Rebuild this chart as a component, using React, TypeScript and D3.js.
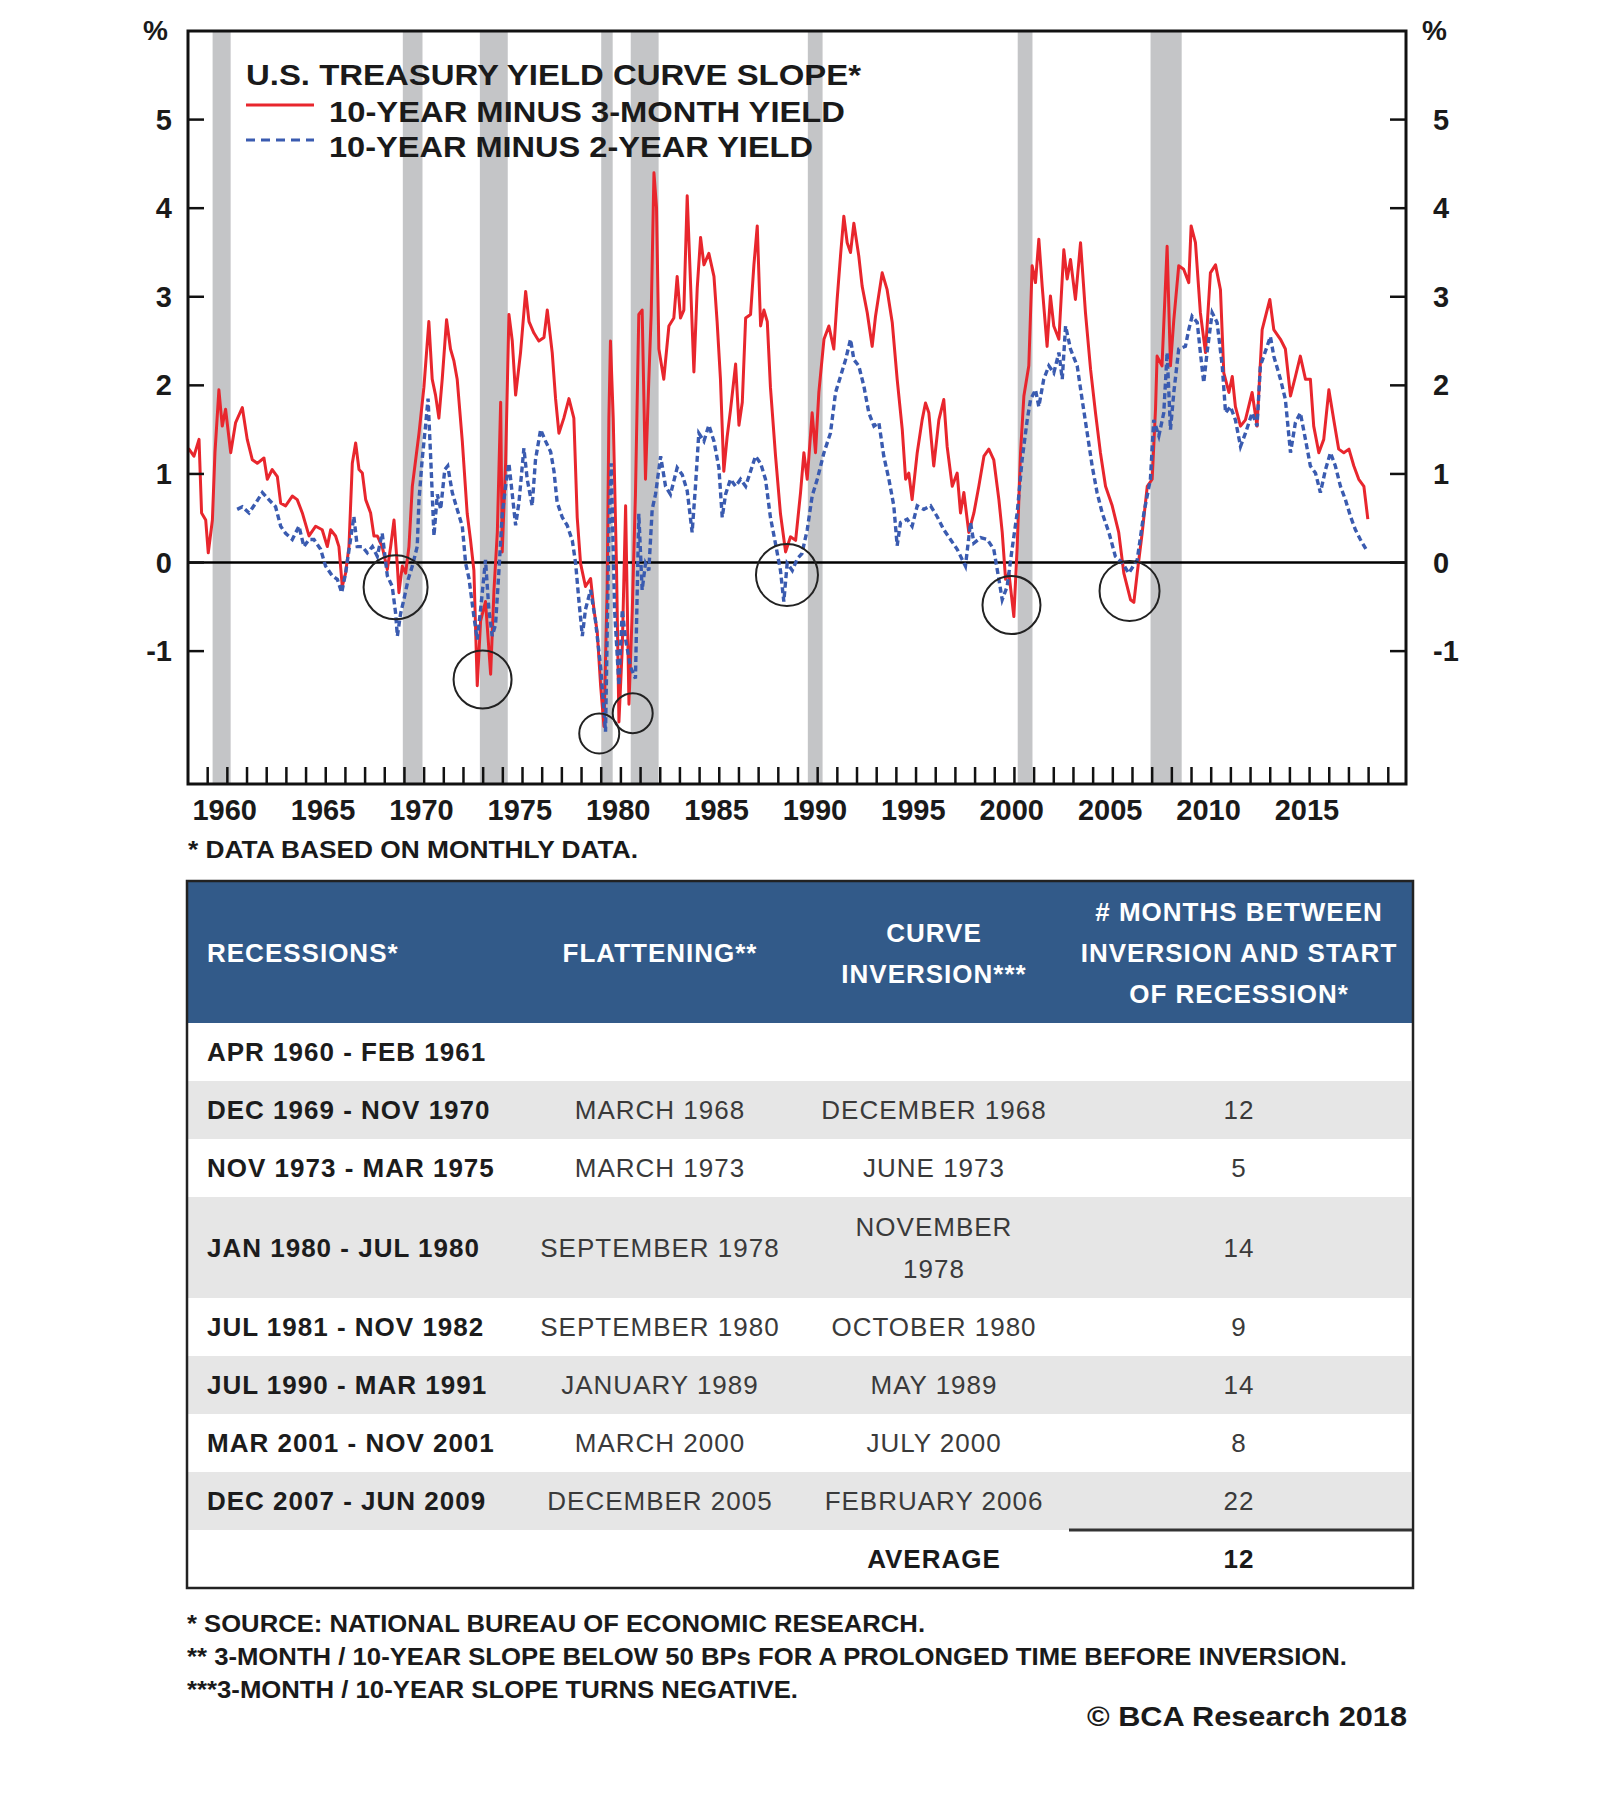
import React, { useEffect, useRef } from 'react';
import * as d3 from 'd3';

const WIDTH = 1600;
const HEIGHT = 1816;

// NBER recessions, decimal years (start of first month, end of last month)
const recessions: [number, number][] = [
  [1960.25, 1961.167],
  [1969.917, 1970.917],
  [1973.833, 1975.25],
  [1980.0, 1980.583],
  [1981.5, 1982.917],
  [1990.5, 1991.25],
  [2001.167, 2001.917],
  [2007.917, 2009.5],
];

// 10-year minus 3-month yield, %
const slope3m: [number, number][] = [
  [1959.0, 1.25], [1959.05, 1.28], [1959.3, 1.2], [1959.56, 1.39], [1959.69, 0.56], [1959.9, 0.48],
  [1960.03, 0.11], [1960.24, 0.48], [1960.37, 1.24], [1960.57, 1.95], [1960.74, 1.54], [1960.91, 1.73],
  [1961.17, 1.24], [1961.42, 1.58], [1961.76, 1.75], [1962.01, 1.39], [1962.27, 1.16], [1962.52, 1.12],
  [1962.86, 1.18], [1963.03, 0.94], [1963.28, 1.05], [1963.54, 0.97], [1963.71, 0.67], [1963.96, 0.64],
  [1964.3, 0.75], [1964.55, 0.71], [1964.81, 0.56], [1965.15, 0.3], [1965.49, 0.41], [1965.82, 0.37],
  [1966.08, 0.18], [1966.25, 0.37], [1966.5, 0.3], [1966.67, 0.18], [1966.84, -0.27], [1967.01, -0.12],
  [1967.18, 0.18], [1967.35, 1.12], [1967.52, 1.35], [1967.69, 1.05], [1967.86, 1.01], [1968.03, 0.71],
  [1968.28, 0.56], [1968.45, 0.3], [1968.62, 0.3], [1968.87, 0.18], [1969.13, -0.08], [1969.3, 0.18],
  [1969.47, 0.48], [1969.64, -0.04], [1969.72, -0.34], [1969.89, -0.04], [1970.06, -0.12], [1970.23, 0.18],
  [1970.4, 0.86], [1970.57, 1.16], [1970.74, 1.46], [1970.99, 1.98], [1971.24, 2.72], [1971.41, 2.07],
  [1971.58, 1.89], [1971.75, 1.63], [1971.92, 2.07], [1972.14, 2.74], [1972.34, 2.41], [1972.51, 2.28],
  [1972.68, 2.07], [1972.94, 1.37], [1973.19, 0.55], [1973.36, 0.25], [1973.53, -0.09], [1973.7, -1.39],
  [1973.87, -0.66], [1974.12, -0.44], [1974.38, -1.26], [1974.55, -0.31], [1974.72, 0.34], [1974.89, 1.81],
  [1974.97, 0.12], [1975.14, 1.12], [1975.31, 2.8], [1975.48, 2.5], [1975.65, 1.89], [1975.9, 2.37],
  [1976.16, 3.06], [1976.33, 2.72], [1976.58, 2.59], [1976.83, 2.5], [1977.09, 2.54], [1977.26, 2.85],
  [1977.51, 2.37], [1977.68, 1.85], [1977.85, 1.46], [1978.1, 1.63], [1978.36, 1.85], [1978.61, 1.63],
  [1978.78, 0.51], [1978.95, -0.01], [1979.2, -0.27], [1979.46, -0.18], [1979.63, -0.53], [1979.8, -0.79],
  [1979.97, -1.39], [1980.14, -1.85], [1980.3, -0.31], [1980.39, 1.63], [1980.47, 2.5], [1980.61, 1.63],
  [1980.78, -0.09], [1980.9, -1.8], [1981.07, -0.96], [1981.24, 0.64], [1981.41, -1.6], [1981.58, -0.53],
  [1981.74, 0.77], [1981.91, 2.8], [1982.08, 2.85], [1982.25, 0.94], [1982.42, 2.07], [1982.54, 2.8],
  [1982.68, 4.4], [1982.81, 4.01], [1982.93, 2.41], [1983.18, 2.07], [1983.44, 2.67], [1983.69, 2.76],
  [1983.86, 3.23], [1984.03, 2.76], [1984.2, 2.85], [1984.37, 4.14], [1984.54, 3.15], [1984.71, 2.15],
  [1984.88, 3.1], [1985.05, 3.67], [1985.22, 3.36], [1985.47, 3.49], [1985.73, 3.23], [1985.89, 2.72],
  [1986.06, 2.07], [1986.23, 1.03], [1986.4, 1.42], [1986.57, 1.72], [1986.83, 2.24], [1987.0, 1.55],
  [1987.17, 1.81], [1987.34, 2.76], [1987.59, 2.8], [1987.76, 3.36], [1987.93, 3.8], [1988.1, 2.67],
  [1988.27, 2.85], [1988.44, 2.72], [1988.6, 1.98], [1988.86, 1.2], [1989.11, 0.55], [1989.37, 0.12],
  [1989.62, 0.29], [1989.88, 0.25], [1990.13, 0.79], [1990.3, 1.24], [1990.47, 0.94], [1990.72, 1.69],
  [1990.89, 1.24], [1991.06, 1.92], [1991.32, 2.52], [1991.57, 2.67], [1991.82, 2.41], [1991.99, 2.97],
  [1992.16, 3.46], [1992.33, 3.91], [1992.5, 3.61], [1992.67, 3.5], [1992.84, 3.83], [1993.09, 3.46],
  [1993.26, 3.12], [1993.52, 2.82], [1993.77, 2.44], [1993.94, 2.78], [1994.28, 3.27], [1994.53, 3.08],
  [1994.79, 2.71], [1995.04, 2.07], [1995.3, 1.5], [1995.47, 0.94], [1995.63, 1.01], [1995.8, 0.71],
  [1996.06, 1.24], [1996.31, 1.61], [1996.48, 1.8], [1996.65, 1.69], [1996.9, 1.09], [1997.16, 1.61],
  [1997.41, 1.84], [1997.58, 1.31], [1997.84, 0.86], [1998.09, 1.01], [1998.26, 0.56], [1998.43, 0.79],
  [1998.68, 0.34], [1998.94, 0.56], [1999.19, 0.86], [1999.45, 1.2], [1999.7, 1.28], [1999.95, 1.16],
  [2000.21, 0.71], [2000.38, 0.34], [2000.55, -0.19], [2000.72, -0.12], [2000.97, -0.61], [2001.14, 0.18],
  [2001.31, 1.24], [2001.48, 1.88], [2001.73, 2.22], [2001.9, 3.35], [2002.07, 3.16], [2002.24, 3.65],
  [2002.41, 3.12], [2002.66, 2.44], [2002.83, 3.01], [2003.0, 2.67], [2003.26, 2.52], [2003.51, 3.53],
  [2003.68, 3.2], [2003.85, 3.42], [2004.1, 2.97], [2004.36, 3.61], [2004.61, 2.82], [2004.87, 2.18],
  [2005.12, 1.69], [2005.37, 1.24], [2005.63, 0.86], [2005.97, 0.64], [2006.3, 0.34], [2006.56, -0.12],
  [2006.9, -0.42], [2007.07, -0.45], [2007.24, -0.12], [2007.49, 0.33], [2007.75, 0.86], [2008.0, 0.94],
  [2008.17, 1.73], [2008.25, 2.33], [2008.5, 2.22], [2008.76, 3.57], [2008.93, 2.22], [2009.1, 2.74],
  [2009.35, 3.35], [2009.6, 3.31], [2009.86, 3.16], [2009.98, 3.8], [2010.2, 3.61], [2010.45, 2.82],
  [2010.71, 2.37], [2010.96, 3.27], [2011.22, 3.36], [2011.47, 3.08], [2011.64, 2.14], [2011.9, 1.92],
  [2012.07, 2.1], [2012.23, 1.76], [2012.49, 1.54], [2012.74, 1.61], [2013.08, 1.92], [2013.33, 1.54],
  [2013.59, 2.63], [2013.98, 2.97], [2014.18, 2.63], [2014.52, 2.52], [2014.77, 2.41], [2015.03, 1.88],
  [2015.28, 2.1], [2015.53, 2.33], [2015.79, 2.07], [2016.04, 2.07], [2016.21, 1.54], [2016.47, 1.24],
  [2016.72, 1.39], [2016.98, 1.95], [2017.23, 1.61], [2017.48, 1.28], [2017.74, 1.24], [2018.0, 1.28],
  [2018.25, 1.09], [2018.5, 0.94], [2018.76, 0.86], [2018.96, 0.49],
];

// 10-year minus 2-year yield, %
const slope2y: [number, number][] = [
  [1961.5, 0.6], [1961.76, 0.63], [1962.1, 0.56], [1962.44, 0.67], [1962.78, 0.79], [1963.11, 0.71],
  [1963.45, 0.63], [1963.71, 0.41], [1963.96, 0.33], [1964.3, 0.26], [1964.64, 0.41], [1964.89, 0.18],
  [1965.15, 0.26], [1965.4, 0.26], [1965.74, 0.15], [1965.99, -0.04], [1966.33, -0.15], [1966.59, -0.19],
  [1966.81, -0.34], [1967.01, -0.12], [1967.26, 0.26], [1967.43, 0.52], [1967.6, 0.18], [1967.86, 0.18],
  [1968.11, 0.11], [1968.37, 0.18], [1968.62, 0.07], [1968.87, 0.33], [1969.13, -0.15], [1969.38, -0.27],
  [1969.55, -0.57], [1969.64, -0.83], [1969.81, -0.57], [1969.97, -0.42], [1970.19, -0.19], [1970.4, -0.04],
  [1970.65, 0.18], [1970.74, 0.71], [1970.9, 1.16], [1971.07, 1.54], [1971.2, 1.85], [1971.35, 1.1],
  [1971.5, 0.3], [1971.67, 0.77], [1971.84, 0.6], [1972.05, 1.05], [1972.2, 1.09], [1972.43, 0.79],
  [1972.68, 0.6], [1972.94, 0.41], [1973.11, -0.01], [1973.28, -0.18], [1973.53, -0.61], [1973.7, -0.87],
  [1973.87, -0.53], [1974.12, 0.03], [1974.29, -0.53], [1974.46, -0.83], [1974.63, -0.7], [1974.8, -0.1],
  [1974.97, 0.55], [1975.14, 0.86], [1975.31, 1.12], [1975.48, 0.77], [1975.65, 0.42], [1975.82, 0.68],
  [1976.07, 1.29], [1976.24, 0.94], [1976.49, 0.64], [1976.66, 1.16], [1976.92, 1.5], [1977.17, 1.37],
  [1977.43, 1.25], [1977.6, 1.03], [1977.76, 0.68], [1978.02, 0.51], [1978.27, 0.42], [1978.53, 0.25],
  [1978.7, -0.01], [1978.87, -0.44], [1979.04, -0.83], [1979.2, -0.53], [1979.46, -0.31], [1979.71, -0.66],
  [1979.97, -1.18], [1980.22, -1.91], [1980.39, 0.34], [1980.51, 1.12], [1980.68, -0.53], [1980.9, -1.39],
  [1981.07, -0.53], [1981.24, -0.87], [1981.49, -1.18], [1981.74, -1.31], [1981.91, 0.55], [1982.08, -0.31],
  [1982.25, -0.01], [1982.42, -0.09], [1982.59, 0.6], [1982.76, 0.77], [1983.02, 1.2], [1983.27, 0.86],
  [1983.52, 0.77], [1983.86, 1.07], [1984.12, 0.99], [1984.37, 0.81], [1984.62, 0.34], [1984.79, 0.86],
  [1984.96, 1.46], [1985.22, 1.37], [1985.47, 1.55], [1985.73, 1.37], [1985.98, 1.07], [1986.15, 0.51],
  [1986.32, 0.77], [1986.57, 0.94], [1986.83, 0.86], [1987.08, 0.94], [1987.34, 0.86], [1987.59, 1.03],
  [1987.84, 1.2], [1988.1, 1.12], [1988.35, 0.94], [1988.6, 0.51], [1988.86, 0.21], [1989.11, -0.09],
  [1989.28, -0.44], [1989.45, -0.01], [1989.71, -0.09], [1989.96, 0.04], [1990.2, 0.1], [1990.47, 0.37],
  [1990.72, 0.75], [1990.98, 0.94], [1991.32, 1.24], [1991.65, 1.46], [1991.91, 1.92], [1992.16, 2.1],
  [1992.42, 2.29], [1992.67, 2.52], [1992.84, 2.29], [1993.09, 2.22], [1993.35, 1.99], [1993.6, 1.69],
  [1993.86, 1.54], [1994.11, 1.58], [1994.36, 1.2], [1994.62, 0.94], [1994.87, 0.64], [1995.04, 0.19],
  [1995.21, 0.45], [1995.55, 0.49], [1995.8, 0.41], [1996.06, 0.64], [1996.4, 0.6], [1996.74, 0.64],
  [1997.07, 0.52], [1997.41, 0.37], [1997.75, 0.26], [1998.09, 0.15], [1998.51, -0.04], [1998.77, 0.45],
  [1998.94, 0.22], [1999.28, 0.28], [1999.62, 0.26], [1999.95, 0.15], [2000.21, -0.19], [2000.38, -0.42],
  [2000.63, -0.27], [2000.88, 0.15], [2001.14, 0.56], [2001.39, 1.16], [2001.65, 1.61], [2001.82, 1.84],
  [2002.07, 1.95], [2002.24, 1.76], [2002.49, 2.07], [2002.75, 2.22], [2003.0, 2.14], [2003.26, 2.37],
  [2003.43, 2.07], [2003.6, 2.67], [2003.85, 2.41], [2004.19, 2.22], [2004.44, 1.84], [2004.7, 1.46],
  [2004.95, 1.09], [2005.2, 0.79], [2005.46, 0.56], [2005.8, 0.34], [2006.13, 0.07], [2006.47, 0.0],
  [2006.81, -0.12], [2007.24, 0.03], [2007.58, 0.56], [2007.91, 0.94], [2008.08, 1.61], [2008.34, 1.43],
  [2008.59, 1.69], [2008.76, 2.37], [2008.93, 1.5], [2009.1, 1.92], [2009.35, 2.41], [2009.69, 2.44],
  [2009.86, 2.63], [2010.03, 2.78], [2010.29, 2.71], [2010.45, 2.37], [2010.62, 2.03], [2010.79, 2.37],
  [2011.05, 2.82], [2011.3, 2.71], [2011.56, 2.22], [2011.73, 1.69], [2011.98, 1.76], [2012.23, 1.61],
  [2012.49, 1.31], [2012.74, 1.46], [2013.08, 1.69], [2013.33, 1.54], [2013.5, 2.22], [2013.84, 2.44],
  [2014.01, 2.55], [2014.18, 2.33], [2014.52, 2.07], [2014.77, 1.84], [2015.03, 1.24], [2015.28, 1.58],
  [2015.53, 1.69], [2015.79, 1.39], [2016.04, 1.09], [2016.3, 1.01], [2016.55, 0.79], [2016.81, 1.05],
  [2017.06, 1.24], [2017.31, 1.09], [2017.57, 0.86], [2017.82, 0.71], [2018.08, 0.52], [2018.33, 0.37],
  [2018.58, 0.26], [2018.92, 0.13],
];

// inversion episodes that are circled on the chart: [year, %]
const inversionMarks: [number, number][] = [
  [1969.55, -0.28],
  [1973.97, -1.32],
  [1979.9, -1.93],
  [1981.6, -1.7],
  [1989.44, -0.14],
  [2000.85, -0.48],
  [2006.85, -0.32],
];

const yTicks = [-1, 0, 1, 2, 3, 4, 5];
const xLabelYears = [1960, 1965, 1970, 1975, 1980, 1985, 1990, 1995, 2000, 2005, 2010, 2015];
const xTickYears = d3.range(1960, 2021);

const legendTitle = 'U.S. TREASURY YIELD CURVE SLOPE*';
const seriesNames = ['10-YEAR MINUS 3-MONTH YIELD', '10-YEAR MINUS 2-YEAR YIELD'];

// table
const headers = [
  ['RECESSIONS*'],
  ['FLATTENING**'],
  ['CURVE', 'INVERSION***'],
  ['# MONTHS BETWEEN', 'INVERSION AND START', 'OF RECESSION*'],
];
const recessionLabels = [
  'APR 1960 - FEB 1961',
  'DEC 1969 - NOV 1970',
  'NOV 1973 - MAR 1975',
  'JAN 1980 - JUL 1980',
  'JUL 1981 - NOV 1982',
  'JUL 1990 - MAR 1991',
  'MAR 2001 - NOV 2001',
  'DEC 2007 - JUN 2009',
];
const flatteningDates = ['', 'MARCH 1968', 'MARCH 1973', 'SEPTEMBER 1978', 'SEPTEMBER 1980', 'JANUARY 1989', 'MARCH 2000', 'DECEMBER 2005'];
const inversionDates = ['', 'DECEMBER 1968', 'JUNE 1973', 'NOVEMBER|1978', 'OCTOBER 1980', 'MAY 1989', 'JULY 2000', 'FEBRUARY 2006'];
const monthsToRecession = ['', '12', '5', '14', '9', '14', '8', '22'];
const averageLabel = 'AVERAGE';
const averageMonths = '12';

const chartNote = '* DATA BASED ON MONTHLY DATA.';
const footnotes = [
  '* SOURCE: NATIONAL BUREAU OF ECONOMIC RESEARCH.',
  '** 3-MONTH / 10-YEAR SLOPE BELOW 50 BPs FOR A PROLONGED TIME BEFORE INVERSION.',
  '***3-MONTH / 10-YEAR SLOPE TURNS NEGATIVE.',
];
const copyright = '\u00A9 BCA Research 2018';

const FONT = '"Liberation Sans", Arial, Helvetica, sans-serif';
const RED = '#e8262d';
const BLUE = '#3a5bb0';

const App: React.FC = () => {
  const svgRef = useRef<SVGSVGElement>(null);

  useEffect(() => {
    if (!svgRef.current) return;
    const svg = d3.select(svgRef.current);
    svg.selectAll('*').remove();

    svg.append('rect').attr('width', WIDTH).attr('height', HEIGHT).attr('fill', '#fff');

    const plot = { left: 188, right: 1406, top: 31, bottom: 784 };
    const x = d3.scaleLinear().domain([1959, 2020.9]).range([plot.left, plot.right]);
    const y = d3.scaleLinear().domain([-2.5, 6]).range([plot.bottom, plot.top]);

    const text = (
      parent: d3.Selection<any, unknown, null, undefined>,
      tx: number,
      ty: number,
      str: string,
      size: number,
      opts: { weight?: string; anchor?: string; fill?: string; spacing?: number; length?: number } = {}
    ) => {
      const t = parent.append('text')
        .attr('x', tx)
        .attr('y', ty)
        .attr('text-anchor', opts.anchor || 'start')
        .style('font-family', FONT)
        .style('font-size', `${size}px`)
        .style('font-weight', opts.weight || 'bold')
        .style('fill', opts.fill || '#1a1a1a')
        .text(str);
      if (opts.spacing) t.style('letter-spacing', `${opts.spacing}px`);
      if (opts.length) t.attr('textLength', opts.length).attr('lengthAdjust', 'spacingAndGlyphs');
      return t;
    };

    // Clip for the series
    svg.append('defs').append('clipPath').attr('id', 'plot-clip')
      .append('rect')
      .attr('x', plot.left).attr('y', plot.top)
      .attr('width', plot.right - plot.left).attr('height', plot.bottom - plot.top);

    // Recession shading
    svg.append('g').selectAll('rect')
      .data(recessions)
      .enter().append('rect')
      .attr('x', d => x(d[0]))
      .attr('y', plot.top)
      .attr('width', d => x(d[1]) - x(d[0]))
      .attr('height', plot.bottom - plot.top)
      .attr('fill', '#c4c5c7');

    // Zero line
    svg.append('line')
      .attr('x1', plot.left).attr('x2', plot.right)
      .attr('y1', y(0)).attr('y2', y(0))
      .attr('stroke', '#000').attr('stroke-width', 2.5);

    const line = d3.line<[number, number]>()
      .x(d => x(d[0]))
      .y(d => y(d[1]));

    const series = svg.append('g').attr('clip-path', 'url(#plot-clip)');
    series.append('path')
      .attr('d', line(slope3m) || '')
      .attr('fill', 'none')
      .attr('stroke', RED)
      .attr('stroke-width', 3)
      .attr('stroke-linejoin', 'round');
    series.append('path')
      .attr('d', line(slope2y) || '')
      .attr('fill', 'none')
      .attr('stroke', BLUE)
      .attr('stroke-width', 3.4)
      .attr('stroke-dasharray', '6,3.5');

    // Inversion circles
    const circleRadii = [32, 29, 20, 20, 31, 29, 30];
    svg.append('g').selectAll('circle')
      .data(inversionMarks)
      .enter().append('circle')
      .attr('cx', d => x(d[0]))
      .attr('cy', d => y(d[1]))
      .attr('r', (d, i) => circleRadii[i])
      .attr('fill', 'none')
      .attr('stroke', '#222')
      .attr('stroke-width', 2);

    // Frame
    svg.append('rect')
      .attr('x', plot.left).attr('y', plot.top)
      .attr('width', plot.right - plot.left).attr('height', plot.bottom - plot.top)
      .attr('fill', 'none').attr('stroke', '#111').attr('stroke-width', 3);

    // Y ticks inside on both sides, labels outside
    const axisG = svg.append('g');
    yTicks.forEach(v => {
      axisG.append('line')
        .attr('x1', plot.left).attr('x2', plot.left + 16)
        .attr('y1', y(v)).attr('y2', y(v))
        .attr('stroke', '#111').attr('stroke-width', 2.5);
      axisG.append('line')
        .attr('x1', plot.right - 16).attr('x2', plot.right)
        .attr('y1', y(v)).attr('y2', y(v))
        .attr('stroke', '#111').attr('stroke-width', 2.5);
      text(axisG, 172, y(v) + 10, String(v), 29, { anchor: 'end' });
      text(axisG, 1433, y(v) + 10, String(v), 29);
    });
    text(axisG, 143, 40, '%', 28);
    text(axisG, 1422, 40, '%', 28);

    // X ticks (yearly) and labels
    xTickYears.forEach(yr => {
      axisG.append('line')
        .attr('x1', x(yr)).attr('x2', x(yr))
        .attr('y1', plot.bottom).attr('y2', plot.bottom - 17)
        .attr('stroke', '#111').attr('stroke-width', 2.5);
    });
    xLabelYears.forEach(yr => {
      text(axisG, x(yr) + 17, 820, String(yr), 29, { anchor: 'middle' });
    });
    text(svg, 188, 858, chartNote, 23, { length: 450 });

    // Legend
    const legend = svg.append('g');
    text(legend, 246, 85, legendTitle, 30, { length: 615 });
    legend.append('line')
      .attr('x1', 246).attr('x2', 314).attr('y1', 105).attr('y2', 105)
      .attr('stroke', RED).attr('stroke-width', 3);
    legend.append('line')
      .attr('x1', 246).attr('x2', 314).attr('y1', 140).attr('y2', 140)
      .attr('stroke', BLUE).attr('stroke-width', 3).attr('stroke-dasharray', '9,6');
    text(legend, 329, 122, seriesNames[0], 30, { length: 516 });
    text(legend, 329, 157, seriesNames[1], 30, { length: 484 });

    // Table
    const table = svg.append('g');
    const tLeft = 187;
    const tRight = 1413;
    const tTop = 881;
    const headerBottom = 1023;
    const colX = [207, 660, 934, 1239];
    const fs = 26;

    table.append('rect')
      .attr('x', tLeft).attr('y', tTop)
      .attr('width', tRight - tLeft).attr('height', headerBottom - tTop)
      .attr('fill', '#325a89');

    headers.forEach((lines, ci) => {
      const lineGap = 41;
      const startY = 953 - ((lines.length - 1) * lineGap) / 2;
      lines.forEach((ln, li) => {
        text(table, colX[ci], startY + li * lineGap + 9, ln, fs, {
          anchor: ci === 0 ? 'start' : 'middle',
          fill: '#ffffff',
          spacing: 1,
        });
      });
    });

    let rowY = headerBottom;
    recessionLabels.forEach((label, i) => {
      const invLines = inversionDates[i].split('|');
      const h = invLines.length > 1 ? 101 : 58;
      if (i % 2 === 1) {
        table.append('rect')
          .attr('x', tLeft + 1).attr('y', rowY)
          .attr('width', tRight - tLeft - 3).attr('height', h)
          .attr('fill', '#e6e6e6');
      }
      const cy = rowY + h / 2;
      text(table, colX[0], cy + 9, label, fs, { spacing: 1, fill: '#1c1c1c' });
      text(table, colX[1], cy + 9, flatteningDates[i], fs, { anchor: 'middle', weight: 'normal', fill: '#3a3a3a', spacing: 1 });
      invLines.forEach((ln, li) => {
        const ly = cy + (li - (invLines.length - 1) / 2) * 42 + 9;
        text(table, colX[2], ly, ln, fs, { anchor: 'middle', weight: 'normal', fill: '#3a3a3a', spacing: 1 });
      });
      text(table, colX[3], cy + 9, monthsToRecession[i], fs, { anchor: 'middle', weight: 'normal', fill: '#3a3a3a', spacing: 1 });
      rowY += h;
    });

    // Average row
    table.append('line')
      .attr('x1', 1069).attr('x2', tRight)
      .attr('y1', rowY).attr('y2', rowY)
      .attr('stroke', '#333').attr('stroke-width', 3);
    const avgCy = rowY + 29;
    text(table, colX[2], avgCy + 9, averageLabel, fs, { anchor: 'middle', spacing: 1 });
    text(table, colX[3], avgCy + 9, averageMonths, fs, { anchor: 'middle', spacing: 1 });
    const tBottom = rowY + 58;

    table.append('rect')
      .attr('x', tLeft).attr('y', tTop)
      .attr('width', tRight - tLeft).attr('height', tBottom - tTop)
      .attr('fill', 'none').attr('stroke', '#222').attr('stroke-width', 2.5);

    // Footnotes
    const noteLengths = [738, 1160, 611];
    footnotes.forEach((f, i) => {
      text(svg, 187, 1632 + i * 33, f, 23, { length: noteLengths[i] });
    });
    text(svg, 1407, 1726, copyright, 28, { anchor: 'end', length: 320 });
  }, []);

  return (
    <svg
      ref={svgRef}
      width={WIDTH}
      height={HEIGHT}
      style={{ position: 'absolute', left: 0, top: 0 }}
    />
  );
};

export default App;
